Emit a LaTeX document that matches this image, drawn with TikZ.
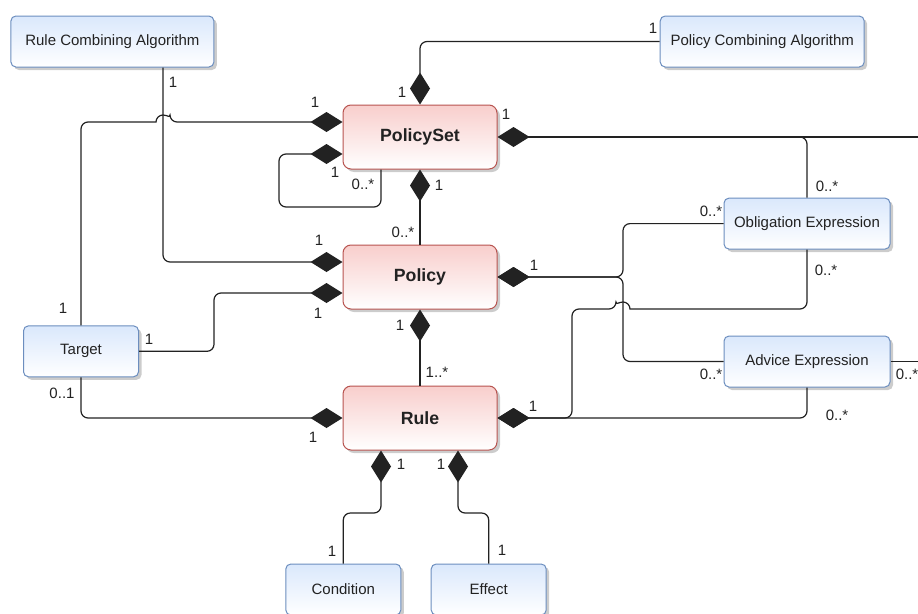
\documentclass[tikz,border=0pt]{standalone}
\usepackage{fontspec}
\setmainfont{Liberation Sans}
\usetikzlibrary{arrows.meta,shadows}
\definecolor{bfill}{HTML}{DAE8FC}
\definecolor{bline}{HTML}{6C8EBF}
\definecolor{rfill}{HTML}{F8CECC}
\definecolor{rline}{HTML}{B85450}
\definecolor{ink}{HTML}{222222}
\begin{document}
\begin{tikzpicture}[x=1pt,y=-1pt,
  bluebox/.style={rectangle, rounded corners=5pt, draw=bline, line width=1pt,
    top color=bfill, bottom color=white, inner sep=0pt, text=ink,
    font=\fontsize{15}{18}\selectfont,
    drop shadow={shadow xshift=3pt,shadow yshift=-3pt,fill=black,opacity=0.2}},
  redbox/.style={rectangle, rounded corners=8pt, draw=rline, line width=1pt,
    top color=rfill, bottom color=white, inner sep=0pt, text=ink,
    minimum width=154pt, minimum height=64pt,
    font=\bfseries\fontsize{17.7}{20}\selectfont,
    drop shadow={shadow xshift=3pt,shadow yshift=-3pt,fill=black,opacity=0.2}},
  conn/.style={draw=ink, line width=1.2pt, rounded corners=7pt},
  comp/.style={{Diamond[length=32pt,width=20pt]}-},
  lab/.style={font=\fontsize{15}{18}\selectfont, text=ink, inner sep=0pt}]
\useasboundingbox (0,0) rectangle (918,613);
\fill[white] (0,0) rectangle (918,613);

% boxes
\node[bluebox, minimum width=203pt, minimum height=51pt] (RCA) at (112.4,41.5) {Rule Combining Algorithm};
\node[bluebox, minimum width=204pt, minimum height=51pt] (PCA) at (762.2,41.5) {Policy Combining Algorithm};
\node[redbox] (PS) at (420,137) {PolicySet};
\node[redbox] (P) at (420,277) {Policy};
\node[redbox] (R) at (420,418) {Rule};
\node[bluebox, minimum width=115pt, minimum height=51pt] (T) at (81,351.3) {Target};
\node[bluebox, minimum width=166pt, minimum height=51pt] (OE) at (807,223.6) {Obligation Expression};
\node[bluebox, minimum width=166pt, minimum height=51pt] (AE) at (807,361.5) {Advice Expression};
\node[bluebox, minimum width=115pt, minimum height=51pt] (C) at (343.3,589.5) {Condition};
\node[bluebox, minimum width=115pt, minimum height=51pt] (Ef) at (488.7,589.5) {Effect};

\coordinate (offR1) at (918,137);
\coordinate (offR2) at (918,361.5);
\coordinate (joinOE) at (785,137);

% connectors
\draw[conn,comp] (PS.north) |- (PCA.west);
\draw[conn,comp] (PS.west |- 0,122) -- (170,122) [sharp corners] arc[start angle=0,end angle=180,radius=7pt] [rounded corners=7pt] -- (T.north |- 0,122) -- (T.north);
\draw[conn,comp] (P.west |- 0,262) -| (RCA.south -| 163,0);
\draw[conn,comp] (PS.west |- 0,154) -- (279,154) -- (279,207) -- (381,207) -- (PS.south -| 381,0);
\draw[conn,comp] (PS.south) -- (P.north);
\draw[conn,comp] (P.west |- 0,293) -- (214,293) -- (214,351.3) -- (T.east);
\draw[conn,comp] (P.south) -- (R.north);
\draw[conn,comp] (R.west) -| (T.south);
\draw[conn,comp] (R.south -| 381,0) -- (381,513) -- (C.north |- 0,513) -- (C.north);
\draw[conn,comp] (R.south -| 458,0) -- (458,513) -- (Ef.north |- 0,513) -- (Ef.north);
\draw[conn,comp] (PS.east) -- (offR1);
\draw[conn] (OE.north) |- (joinOE);
\draw[conn,comp] (P.east) -- (P.east -| 623,0) |- (OE.west);
\draw[conn,comp] (P.east) -- (P.east -| 623,0) |- (AE.west);
\draw[conn,comp] (R.east) -- (572,418) -- (572,309) -- (616,309) [sharp corners] arc[start angle=180,end angle=0,radius=7pt] [rounded corners=7pt] -- (OE.south |- 0,309) -- (OE.south);
\draw[conn,comp] (R.east) -| (AE.south);
\draw[conn] (AE.east) -- (offR2);

% multiplicities
\node[lab] (m1) at (402,92) {1};
\node[lab] (m2) at (653,28) {1};
\node[lab] (m3) at (173,82) {1};
\node[lab] (m4) at (319,240) {1};
\node[lab] (m5) at (315,102) {1};
\node[lab] (m6) at (63,308) {1};
\node[lab] (m7) at (335,172) {1};
\node[lab] (m8) at (363,184) {0..*};
\node[lab] (m9) at (439,185) {1};
\node[lab] (m10) at (403,232) {0..*};
\node[lab] (m11) at (149,339) {1};
\node[lab] (m12) at (318,313) {1};
\node[lab] (m13) at (400,325) {1};
\node[lab] (m14) at (437,372) {1..*};
\node[lab] (m15) at (62,393) {0..1};
\node[lab] (m16) at (313,437) {1};
\node[lab] (m17) at (401,464) {1};
\node[lab] (m18) at (332,551) {1};
\node[lab] (m19) at (441,464) {1};
\node[lab] (m20) at (502,550) {1};
\node[lab] (m21) at (506,114) {1};
\node[lab] (m22) at (827,186) {0..*};
\node[lab] (m23) at (711,211) {0..*};
\node[lab] (m24) at (534,265) {1};
\node[lab] (m25) at (711,374) {0..*};
\node[lab] (m26) at (826,270) {0..*};
\node[lab] (m27) at (837,415) {0..*};
\node[lab] (m28) at (533,406) {1};
\node[lab] (m29) at (907,374) {0..*};
\end{tikzpicture}
\end{document}
